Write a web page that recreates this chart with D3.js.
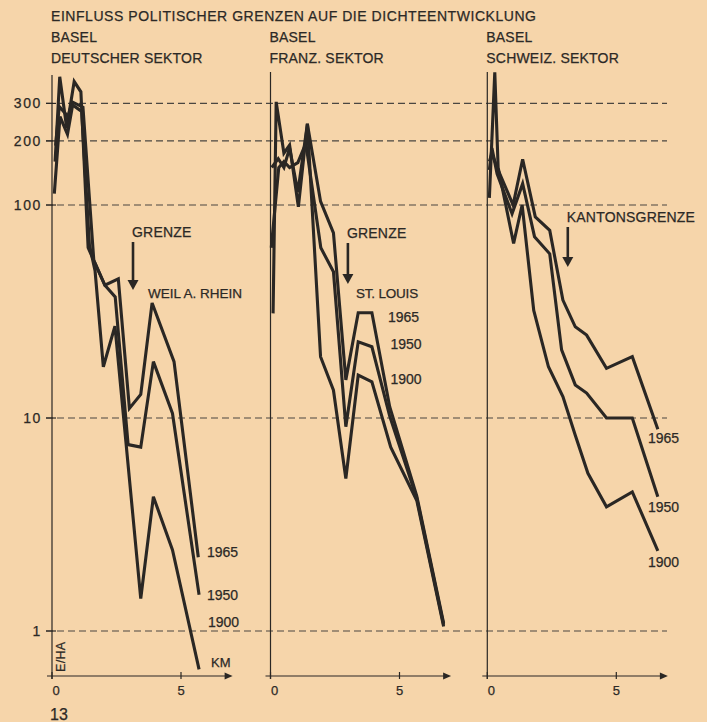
<!DOCTYPE html>
<html>
<head>
<meta charset="utf-8">
<script src="https://cdn.jsdelivr.net/npm/d3@7/dist/d3.min.js"></script>
<style>
  html, body { margin: 0; padding: 0; background: #f6d5aa; }
  svg { display: block; }
  text { font-family: "Liberation Sans", Arial, sans-serif; fill: #2c2926; stroke: #2c2926; stroke-width: 0.25; }
</style>
</head>
<body>
<svg id="chart" width="707" height="722"></svg>
<script>
// ---------- DATA ----------
const title = "EINFLUSS POLITISCHER GRENZEN AUF DIE DICHTEENTWICKLUNG";
const panelCity = ["BASEL", "BASEL", "BASEL"];
const panelSector = ["DEUTSCHER SEKTOR", "FRANZ. SEKTOR", "SCHWEIZ. SEKTOR"];
const borderLabels = ["GRENZE", "GRENZE", "KANTONSGRENZE"];
const borderKm = [3.14, 3.0, 3.12];
const placeLabels = ["WEIL A. RHEIN", "ST. LOUIS", ""];
const years = ["1965", "1950", "1900"];
const yTickValues = [300, 200, 100, 10, 1];
const yTickLabels = ["300", "200", "100", "10", "1"];
const xTickValues = [0, 5];
const xTickLabels = ["0", "5"];

// Deutscher Sektor: [km, E/HA]
const de1965 = [[0.12,160],[0.30,400],[0.57,230],[0.86,380],[1.12,340],[1.40,63],[2.05,42],[2.57,45],[3.00,11.1],[3.44,12.9],[3.88,34.7],[4.73,18.4],[5.67,2.22]];
const de1950 = [[0.14,190],[0.28,290],[0.62,260],[0.78,305],[1.20,288],[1.62,55],[2.05,42],[2.45,37],[2.95,7.5],[3.44,7.3],[3.93,18.4],[4.67,10.5],[5.70,1.48]];
const de1900 = [[0.09,113],[0.31,260],[0.60,215],[0.80,295],[1.15,275],[1.45,65],[1.67,49],[1.99,17.4],[2.44,27],[3.44,1.42],[3.93,4.27],[4.67,2.4],[5.70,0.66]];

// Franz. Sektor
const fr1965 = [[0.05,150],[0.30,165],[0.52,150],[0.74,185],[1.06,115],[1.43,240],[1.94,104],[2.44,74],[2.92,15.1],[3.40,31.2],[3.93,31.2],[4.62,11.3],[5.67,4.3],[6.71,1.09]];
const fr1950 = [[0.03,63],[0.32,150],[0.52,160],[0.74,150],[1.06,158],[1.37,195],[1.95,63],[2.44,48.6],[2.92,9.1],[3.40,22.8],[3.93,21.6],[4.62,10.2],[5.67,4.2],[6.71,1.07]];
const fr1900 = [[0.10,31],[0.22,305],[0.52,175],[0.74,191],[1.08,98],[1.43,241],[1.94,19.4],[2.44,13.5],[2.92,5.2],[3.40,15.9],[3.93,14.8],[4.66,7.3],[5.67,4.1],[6.71,1.05]];

// Schweiz. Sektor
const ch1965 = [[0.08,160],[0.18,175],[0.38,150],[1.00,100],[1.37,164],[1.86,88],[2.42,76],[2.93,35.8],[3.41,26.8],[3.85,24.5],[4.62,17.1],[5.62,19.4],[6.61,8.85]];
const ch1950 = [[0.08,146],[0.18,185],[0.38,140],[0.96,91],[1.37,126],[1.83,71],[2.42,59],[2.88,20.9],[3.41,14.3],[3.85,13.1],[4.62,10],[5.62,10],[6.61,4.27]];
const ch1900 = [[0.08,108],[0.29,420],[0.42,150],[1.02,66],[1.35,100],[1.80,32],[2.37,17.4],[2.93,12.6],[3.41,8.3],[3.90,5.5],[4.62,3.83],[5.62,4.5],[6.61,2.38]];

const panelSeries = [[de1965, de1950, de1900], [fr1965, fr1950, fr1900], [ch1965, ch1950, ch1900]];

// ---------- LAYOUT ----------
const panelX0 = [52, 270.5, 487.3];
const kmPx = 25.8;
const ink = "#2a2724";
const svg = d3.select("#chart");
svg.append("rect").attr("width", 707).attr("height", 722).attr("fill", "#f6d5aa");

const y = d3.scaleLog().domain([1, 300]).range([631, 103.4]);
const axisY = 676;

// title & headers
svg.append("text").attr("x", 51).attr("y", 21).attr("font-size", 14).attr("letter-spacing", 0.55).text(title);
panelX0.forEach((x0, i) => {
  svg.append("text").attr("x", x0 - 1).attr("y", 42).attr("font-size", 14).attr("letter-spacing", 0.2).text(panelCity[i]);
  svg.append("text").attr("x", x0 - 1).attr("y", 63).attr("font-size", 14).attr("letter-spacing", 0.2).text(panelSector[i]);
});

// dashed reference lines
svg.append("g").selectAll("line").data(yTickValues).join("line")
  .attr("x1", 46).attr("x2", 667)
  .attr("y1", d => y(d)).attr("y2", d => y(d))
  .attr("stroke", "#4a4640").attr("stroke-width", 1.1).attr("stroke-dasharray", "7,4");

// y ticks + labels (left panel)
svg.append("g").selectAll("line").data(yTickValues).join("line")
  .attr("x1", 46).attr("x2", 56).attr("y1", d => y(d)).attr("y2", d => y(d))
  .attr("stroke", ink).attr("stroke-width", 1.2);
svg.append("g").selectAll("text").data(yTickValues).join("text")
  .attr("x", 42).attr("y", d => y(d) + 5).attr("text-anchor", "end")
  .attr("font-size", 14).attr("letter-spacing", 1.6)
  .text((d, i) => yTickLabels[i]);

const line = d3.line();

panelX0.forEach((x0, p) => {
  const x = d3.scaleLinear().domain([0, 7]).range([x0, x0 + 7 * kmPx]);
  const g = svg.append("g");
  // vertical axis
  g.append("line").attr("x1", x0).attr("x2", x0).attr("y1", p === 0 ? 75 : 72).attr("y2", axisY + 3)
    .attr("stroke", ink).attr("stroke-width", 1.2);
  // horizontal axis with arrow
  g.append("line").attr("x1", x0 - 5).attr("x2", x(7) - 4).attr("y1", axisY).attr("y2", axisY)
    .attr("stroke", ink).attr("stroke-width", 1.2);
  g.append("path")
    .attr("d", `M${x(7)},${axisY} L${x(7) - 8},${axisY - 3.5} L${x(7) - 8},${axisY + 3.5} Z`)
    .attr("fill", ink);
  g.selectAll(".xt").data(xTickValues).join("line").attr("class", "xt")
    .attr("x1", d => x(d)).attr("x2", d => x(d)).attr("y1", axisY - 4).attr("y2", axisY + 3)
    .attr("stroke", ink).attr("stroke-width", 1.2);
  g.selectAll(".xl").data(xTickValues).join("text").attr("class", "xl")
    .attr("x", d => x(d) + (d === 0 ? 4 : 0)).attr("y", 695).attr("text-anchor", "middle")
    .attr("font-size", 13).text((d, i) => xTickLabels[i]);

  // data lines
  const lineGen = line.x(d => x(d[0])).y(d => y(d[1]));
  g.selectAll(".series").data(panelSeries[p]).join("path").attr("class", "series")
    .attr("d", d => lineGen(d))
    .attr("fill", "none").attr("stroke", ink).attr("stroke-width", 3.1)
    .attr("stroke-linejoin", "miter").attr("stroke-miterlimit", 4);

  // border arrow
  const bx = x(borderKm[p]);
  const arrowTop = p === 0 ? 242 : (p === 1 ? 243 : 227);
  const arrowTip = p === 0 ? 290 : (p === 1 ? 284 : 267);
  g.append("line").attr("x1", bx).attr("x2", bx).attr("y1", arrowTop).attr("y2", arrowTip - 8)
    .attr("stroke", ink).attr("stroke-width", 2.6);
  g.append("path").attr("d", `M${bx},${arrowTip} L${bx - 5.5},${arrowTip - 10} L${bx + 5.5},${arrowTip - 10} Z`).attr("fill", ink);
  g.append("text").attr("x", bx - 1).attr("y", arrowTop - 5).attr("font-size", 14).attr("letter-spacing", 0.2).text(borderLabels[p]);
});

// place labels
svg.append("text").attr("x", 148).attr("y", 298).attr("font-size", 13.5).text(placeLabels[0]);
svg.append("text").attr("x", 356).attr("y", 298).attr("font-size", 13.5).attr("letter-spacing", -0.2).text(placeLabels[1]);

// year labels
const yearPos = [
  [[207, 557], [207, 600], [208, 627]],
  [[388, 322], [390.5, 349], [390.5, 384]],
  [[648, 443], [648, 512], [648, 567]]
];
yearPos.forEach(ps => ps.forEach((pt, i) => {
  svg.append("text").attr("x", pt[0]).attr("y", pt[1]).attr("font-size", 14).text(years[i]);
}));

// axis unit labels
svg.append("text").attr("transform", "translate(65,672) rotate(-90)").attr("font-size", 12.5).attr("letter-spacing", 0.3).text("E/HA");
svg.append("text").attr("x", 211).attr("y", 667).attr("font-size", 13).text("KM");
svg.append("text").attr("x", 50).attr("y", 720).attr("font-size", 16).text("13");
</script>
</body>
</html>
